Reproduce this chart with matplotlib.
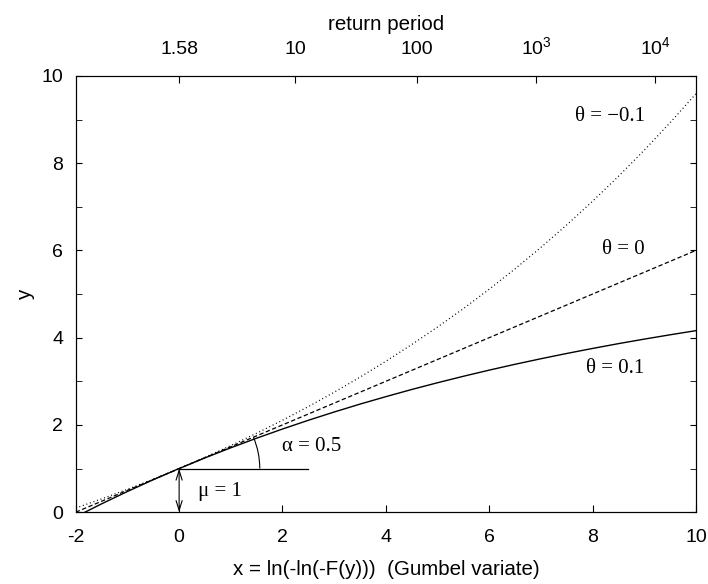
import numpy as np
import matplotlib
matplotlib.use("Agg")
import matplotlib.pyplot as plt
from matplotlib.patches import Arc

plt.rcParams['font.family'] = ['Liberation Sans', 'DejaVu Sans']
plt.rcParams['mathtext.fontset'] = 'custom'
plt.rcParams['mathtext.rm'] = 'Liberation Sans'
plt.rcParams['mathtext.it'] = 'Liberation Sans'
plt.rcParams['axes.unicode_minus'] = False

# ---- data ----
x_vals = [-2, -1.5, -1, -0.5, 0, 0.5, 1, 1.5, 2, 2.5, 3, 3.5, 4, 4.5, 5,
          5.5, 6, 6.5, 7, 7.5, 8, 8.5, 9, 9.5, 10]
y_neg = [0.094, 0.304, 0.524, 0.756, 1.0, 1.256, 1.526, 1.809, 2.107, 2.420,
         2.749, 3.095, 3.459, 3.842, 4.244, 4.666, 5.111, 5.578, 6.069, 6.585,
         7.128, 7.698, 8.298, 8.929, 9.591]
y_zero = [0.0, 0.25, 0.5, 0.75, 1.0, 1.25, 1.5, 1.75, 2.0, 2.25, 2.5, 2.75,
          3.0, 3.25, 3.5, 3.75, 4.0, 4.25, 4.5, 4.75, 5.0, 5.25, 5.5, 5.75, 6.0]
y_pos = [-0.107, 0.191, 0.474, 0.744, 1.0, 1.244, 1.476, 1.696, 1.906, 2.106,
         2.296, 2.477, 2.648, 2.812, 2.967, 3.115, 3.256, 3.390, 3.517, 3.638,
         3.753, 3.863, 3.967, 4.066, 4.161]

# return period axis (top): positions on the Gumbel variate axis
rp_pos = [0.0, 2.25, 4.60, 6.907, 9.21]
rp_labels = ['1.58', '10', '100', r'$10^3$', r'$10^4$']

mu = 1.0
alpha = 0.5

fig = plt.figure(figsize=(7.08, 5.84), dpi=100)
ax = fig.add_axes([0.107, 0.123, 0.876, 0.747])

ax.plot(x_vals, y_neg, color='k', lw=0.9, ls=(0, (0.8, 2.2)))
ax.plot(x_vals, y_zero, color='k', lw=0.9, ls=(0, (3.5, 2.0)))
ax.plot(x_vals, y_pos, color='k', lw=1.0, ls='-')

# annotations: location and scale
ax.plot([0, 2.5], [mu, mu], color='k', lw=0.9)
ax.annotate('', xy=(0, 0), xytext=(0, mu),
            arrowprops=dict(arrowstyle='<->,head_length=0.7,head_width=0.22',
                            color='k', lw=0.8, shrinkA=0, shrinkB=0))
ax.add_patch(Arc((0, mu), 3.12, 3.70, theta1=0, theta2=np.degrees(np.arctan(alpha)),
                 color='k', lw=0.8))

serif = ['Liberation Serif', 'DejaVu Serif']
ax.text(2.57, 1.50, 'α = 0.5', family=serif, fontsize=15, ha='center', va='center')
ax.text(0.79, 0.47, 'μ = 1', family=serif, fontsize=15, ha='center', va='center')
ax.text(8.33, 9.06, 'θ = −0.1', family=serif, fontsize=15, ha='center', va='center')
ax.text(8.60, 6.02, 'θ = 0', family=serif, fontsize=15, ha='center', va='center')
ax.text(8.43, 3.30, 'θ = 0.1', family=serif, fontsize=15, ha='center', va='center')

ax.set_xlim(-2, 10)
ax.set_ylim(0, 10)
ax.set_xticks(range(-2, 11, 2))
ax.set_yticks(range(0, 11, 2))
ax.set_yticks(range(1, 10, 2), minor=True)
ax.tick_params(axis='x', which='both', direction='in', length=5, labelsize=14, pad=12, top=False)
ax.tick_params(axis='y', which='both', direction='in', length=4, labelsize=14, pad=9, right=True)
ax.set_xlabel('x = ln(-ln(-F(y)))  (Gumbel variate)', fontsize=14.8, labelpad=10)
ax.set_ylabel('y', fontsize=14.8, labelpad=5)

top = ax.twiny()
top.set_xlim(ax.get_xlim())
top.set_xticks(rp_pos)
top.set_xticklabels(rp_labels)
top.tick_params(axis='x', direction='in', length=5, labelsize=14, pad=13)
top.set_xlabel('return period', fontsize=14.8, labelpad=4)

for a in (ax, top):
    for s in a.spines.values():
        s.set_linewidth(0.8)

fig.savefig('out.png', dpi=100)
